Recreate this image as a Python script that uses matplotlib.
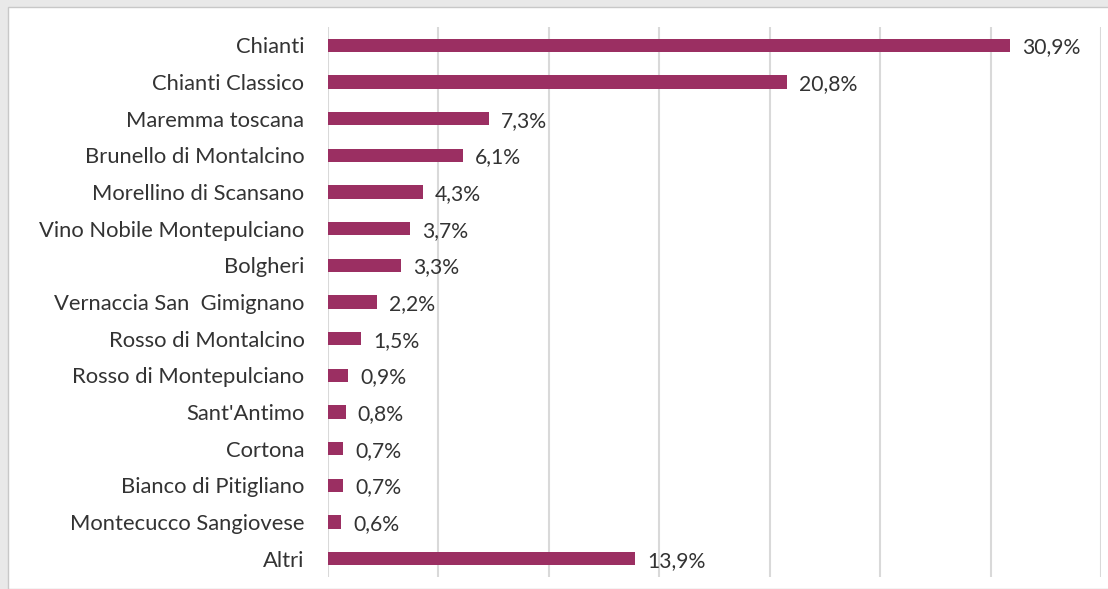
import matplotlib
matplotlib.use("Agg")
import matplotlib.pyplot as plt
from matplotlib.patches import Rectangle

categories = ["Chianti", "Chianti Classico", "Maremma toscana", "Brunello di Montalcino",
              "Morellino di Scansano", "Vino Nobile Montepulciano", "Bolgheri",
              "Vernaccia San  Gimignano", "Rosso di Montalcino", "Rosso di Montepulciano",
              "Sant'Antimo", "Cortona", "Bianco di Pitigliano", "Montecucco Sangiovese", "Altri"]
values = [30.9, 20.8, 7.3, 6.1, 4.3, 3.7, 3.3, 2.2, 1.5, 0.9, 0.8, 0.7, 0.7, 0.6, 13.9]
labels = ["30,9%", "20,8%", "7,3%", "6,1%", "4,3%", "3,7%", "3,3%", "2,2%", "1,5%",
          "0,9%", "0,8%", "0,7%", "0,7%", "0,6%", "13,9%"]

W, H = 1108, 589
fig = plt.figure(figsize=(W / 100, H / 100), dpi=100, facecolor="#e9e9e9")
fig.patches.append(Rectangle((8 / W, 0), 1.2, 1 - 7 / H, transform=fig.transFigure,
                             facecolor="white", edgecolor="#c8c8c8", linewidth=1.0, zorder=-5))

ax = fig.add_axes([328 / W, 1 - 577 / H, (1101 - 328) / W, (577 - 27) / H])
ax.set_zorder(5)
ax.set_facecolor("none")
ypos = list(range(len(categories)))
ax.barh(ypos, values, height=0.36, color="#9b2f62", zorder=3)
ax.set_xlim(0, 35)
ax.set_ylim(len(categories) - 0.5, -0.5)
ax.set_xticks([0, 5, 10, 15, 20, 25, 30, 35])
ax.xaxis.grid(True, color="#d9d9d9", linewidth=1.5)
ax.tick_params(axis="x", length=0, labelbottom=False)
ax.tick_params(axis="y", length=0, pad=17)
ax.set_yticks(ypos)
ax.set_yticklabels(categories, fontsize=15.8, color="#333333", family="Lato")
for s in ax.spines.values():
    s.set_visible(False)

for y, v, lab in zip(ypos, values, labels):
    ax.annotate(lab, (v, y), xytext=(12, -2), textcoords="offset pixels",
                va="center", ha="left", fontsize=15.2, color="#333333", family="Lato")

fig.savefig("out.png", dpi=100, facecolor=fig.get_facecolor())
